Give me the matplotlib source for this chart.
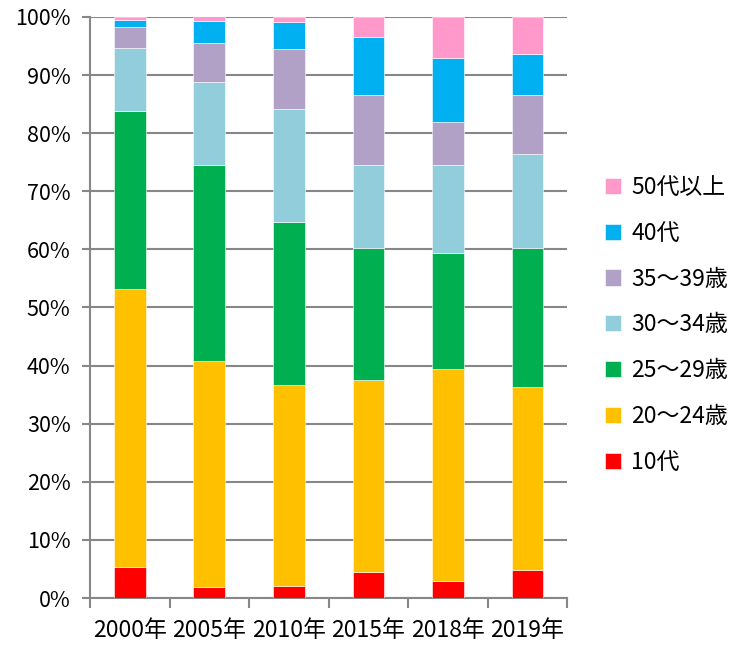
import numpy as np
import matplotlib.pyplot as plt
from matplotlib.ticker import FixedLocator, PercentFormatter

plt.rcParams['font.family'] = ['Noto Sans CJK JP', 'DejaVu Sans']

# data (percent shares)
years = ['2000年', '2005年', '2010年', '2015年', '2018年', '2019年']
groups = ['10代', '20～24歳', '25～29歳', '30～34歳', '35～39歳', '40代', '50代以上']
teens = [5.3, 1.9, 2.1, 4.4, 2.9, 4.9]
age20_24 = [47.8, 38.9, 34.6, 33.2, 36.5, 31.5]
age25_29 = [30.7, 33.8, 28.1, 22.6, 19.9, 23.9]
age30_34 = [10.9, 14.2, 19.3, 14.3, 15.3, 16.2]
age35_39 = [3.5, 6.8, 10.4, 12.0, 7.4, 10.0]
forties = [1.2, 3.7, 4.6, 10.0, 10.9, 7.2]
fifties = [0.6, 1.1, 0.9, 3.5, 7.1, 6.3]
colors = ['#FF0000', '#FFC000', '#00B050', '#92CDDC', '#B2A1C7', '#00B0F0', '#FF99CC']

series = [teens, age20_24, age25_29, age30_34, age35_39, forties, fifties]

fig = plt.figure(figsize=(7.32, 6.46), dpi=100)
ax = fig.add_axes([0.123, 0.0743, 0.652, 0.8994])

x = np.arange(len(years))
bottom = np.zeros(len(years))
handles = []
for vals, c, name in zip(series, colors, groups):
    b = ax.bar(x, vals, 0.4, bottom=bottom, color=c, label=name,
               edgecolor='white', linewidth=0.4, zorder=3)
    handles.append(b)
    bottom += np.array(vals)

grid_c = '#878787'
ax.set_xlim(-0.5, len(years) - 0.5)
ax.set_ylim(0, 100)
ax.set_yticks(np.arange(0, 101, 10))
ax.yaxis.set_major_formatter(PercentFormatter(decimals=0))
ax.yaxis.grid(True, color=grid_c, linewidth=1.5, zorder=0)
ax.set_axisbelow(True)

ax.set_xticks(x)
ax.set_xticklabels(years)
ax.xaxis.set_minor_locator(FixedLocator(np.arange(-0.5, len(years), 1)))
ax.tick_params(axis='x', which='major', length=0, pad=15, labelsize=16.5)
ax.tick_params(axis='x', which='minor', length=7, width=1.5, color=grid_c)
ax.tick_params(axis='y', length=6, width=1.5, color=grid_c, labelsize=15.5, pad=8)

for s in ['top', 'right']:
    ax.spines[s].set_visible(False)
for s in ['left', 'bottom']:
    ax.spines[s].set_color(grid_c)
    ax.spines[s].set_linewidth(1.5)

ax.legend(handles[::-1], groups[::-1], loc='center left',
          bbox_to_anchor=(1.06, 0.47), frameon=False, fontsize=16.5,
          handlelength=0.7, handleheight=0.7, handletextpad=0.45,
          labelspacing=1.0, borderaxespad=0)

fig.savefig('out.png', dpi=100)
